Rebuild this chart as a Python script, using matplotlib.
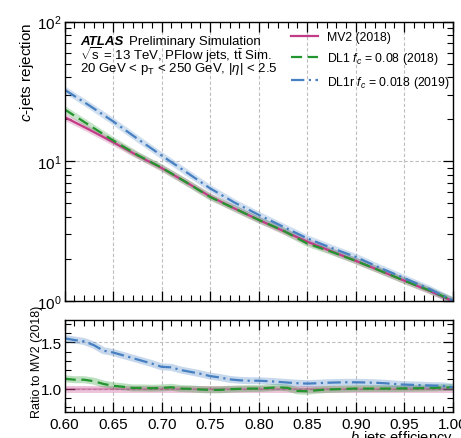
import numpy as np
import matplotlib
matplotlib.use("Agg")
import matplotlib.pyplot as plt
from matplotlib.ticker import MultipleLocator, LogLocator, NullFormatter

plt.rcParams['font.family'] = ['Liberation Sans', 'DejaVu Sans']
plt.rcParams['mathtext.fontset'] = 'custom'
plt.rcParams['mathtext.rm'] = 'Liberation Sans'
plt.rcParams['mathtext.it'] = 'Liberation Sans:italic'
plt.rcParams['mathtext.bf'] = 'Liberation Sans:bold'

# b-jet efficiency (main panel) and c-jet rejection
eff = [0.600, 0.625, 0.650, 0.675, 0.700, 0.725, 0.750, 0.775, 0.800,
       0.825, 0.850, 0.875, 0.900, 0.925, 0.950, 0.975, 1.000]
rej_mv2 = [20.7, 16.9, 13.7, 11.0, 8.95, 7.1, 5.6, 4.6, 3.81,
           3.18, 2.66, 2.27, 1.94, 1.65, 1.40, 1.19, 1.0]
rej_dl1 = [23.5, 18.2, 14.1, 11.1, 9.0, 7.1, 5.55, 4.6, 3.81,
           3.2, 2.58, 2.25, 1.94, 1.65, 1.40, 1.20, 1.01]
rej_dl1r = [32.5, 25.2, 19.3, 14.5, 11.0, 8.4, 6.4, 5.07, 4.14,
            3.41, 2.81, 2.40, 2.07, 1.73, 1.46, 1.23, 1.01]

# ratio panel, finer steps
eff_r = [round(0.60 + 0.01 * i, 2) for i in range(41)]
ratio_dl1 = [1.107, 1.096, 1.096, 1.08, 1.05, 1.03, 1.02, 1.007, 1.007, 1.004,
             1.007, 1.014, 1.0, 0.997, 0.99, 0.986, 0.986, 0.993, 0.997, 1.0,
             1.0, 1.007, 1.014, 1.007, 0.975, 0.971, 0.982, 0.99, 0.993, 0.997,
             1.0, 1.0, 1.0, 1.0, 1.0, 1.002, 1.003, 1.005, 1.007, 1.01, 1.014]
ratio_dl1r = [1.543, 1.525, 1.51, 1.47, 1.41, 1.39, 1.36, 1.33, 1.30, 1.27,
              1.235, 1.23, 1.20, 1.18, 1.16, 1.135, 1.12, 1.10, 1.09, 1.085,
              1.085, 1.08, 1.073, 1.065, 1.058, 1.054, 1.058, 1.063, 1.066, 1.068,
              1.068, 1.066, 1.063, 1.058, 1.05, 1.043, 1.04, 1.036, 1.032, 1.03, 1.015]
ratio_mv2 = [1.0] * len(eff_r)

c_mv2 = '#c23b86'
c_dl1 = '#23952e'
c_dl1r = '#4680c2'
ls_dl1 = (0, (5, 2.5))
ls_dl1r = (0, (6, 2, 1, 2))

fig = plt.figure(figsize=(4.61, 4.39), dpi=100)
ax = fig.add_axes([0.1403, 0.312, 0.8417, 0.6365])
axr = fig.add_axes([0.1403, 0.0599, 0.8417, 0.2096])

# main panel
for y, c in [(rej_mv2, c_mv2), (rej_dl1, c_dl1), (rej_dl1r, c_dl1r)]:
    ax.plot(eff, y, color=c, lw=4.5, alpha=0.25, solid_capstyle='butt')
ax.plot(eff, rej_mv2, color=c_mv2, lw=1.6, label='MV2 (2018)')
ax.plot(eff, rej_dl1, color=c_dl1, lw=1.6, ls=ls_dl1, label=r'DL1 $f_c$ = 0.08 (2018)')
ax.plot(eff, rej_dl1r, color=c_dl1r, lw=1.6, ls=ls_dl1r, label=r'DL1r $f_c$ = 0.018 (2019)')

ax.set_yscale('log')
ax.set_ylim(1, 100)
ax.set_xlim(0.6, 1.0)
ax.xaxis.set_major_locator(MultipleLocator(0.05))
ax.xaxis.set_minor_locator(MultipleLocator(0.01))
ax.yaxis.set_minor_locator(LogLocator(base=10, subs=np.arange(2, 10)))
ax.yaxis.set_minor_formatter(NullFormatter())
ax.tick_params(labelbottom=False)
ax.grid(True, which='major', ls=(0, (3, 2)), color='#bdbdbd', lw=0.8)
ax.set_ylabel(r'$c$-jets rejection', fontsize=11, loc='top')

ax.text(0.04, 0.921, 'ATLAS', transform=ax.transAxes, fontsize=9.5,
        fontweight='bold', fontstyle='italic', va='baseline')
ax.text(0.166, 0.921, 'Preliminary Simulation', transform=ax.transAxes,
        fontsize=9.5, va='baseline')
ax.text(0.04, 0.867, r'$\sqrt{\mathrm{s}}$ = 13 TeV, PFlow jets, $\mathrm{t\bar{t}}$ Sim.',
        transform=ax.transAxes, fontsize=9.5, va='baseline')
ax.text(0.04, 0.824, r'20 GeV < $\mathrm{p_T}$ < 250 GeV, $|\eta|$ < 2.5',
        transform=ax.transAxes, fontsize=9.5, va='baseline')

ax.legend(loc='upper left', bbox_to_anchor=(0.583, 0.966), frameon=False, fontsize=8.8,
          handlelength=2.2, handletextpad=0.75, labelspacing=0.6,
          borderpad=0, borderaxespad=0)

# ratio panel
for y, c in [(ratio_mv2, c_mv2), (ratio_dl1, c_dl1), (ratio_dl1r, c_dl1r)]:
    axr.plot(eff_r, y, color=c, lw=5, alpha=0.3, solid_capstyle='butt')
axr.plot(eff_r, ratio_mv2, color=c_mv2, lw=1.6, alpha=0.35)
axr.plot(eff_r, ratio_dl1, color=c_dl1, lw=1.6, ls=ls_dl1)
axr.plot(eff_r, ratio_dl1r, color=c_dl1r, lw=1.6, ls=ls_dl1r)

axr.set_xlim(0.6, 1.0)
axr.set_ylim(0.75, 1.745)
axr.xaxis.set_major_locator(MultipleLocator(0.05))
axr.xaxis.set_minor_locator(MultipleLocator(0.01))
axr.yaxis.set_major_locator(MultipleLocator(0.5))
axr.yaxis.set_minor_locator(MultipleLocator(0.1))
axr.grid(True, which='major', ls=(0, (3, 2)), color='#bdbdbd', lw=0.8)
axr.set_ylabel('Ratio to MV2 (2018)', fontsize=9)
axr.set_xlabel(r'$b$-jets efficiency', fontsize=10.5, loc='right', labelpad=-1.5)

for a in (ax, axr):
    a.tick_params(which='both', direction='in', top=True, right=True, labelsize=11)
    a.tick_params(which='major', length=7, width=0.9)
    a.tick_params(which='minor', length=4, width=0.8)
    a.tick_params(axis='y', which='major', pad=2)
    for s in a.spines.values():
        s.set_linewidth(1.0)
    a.set_axisbelow(True)

ax.yaxis.set_label_coords(-0.075, 1.0)
axr.yaxis.set_label_coords(-0.056, 0.55)

fig.savefig('out.png', dpi=100)
